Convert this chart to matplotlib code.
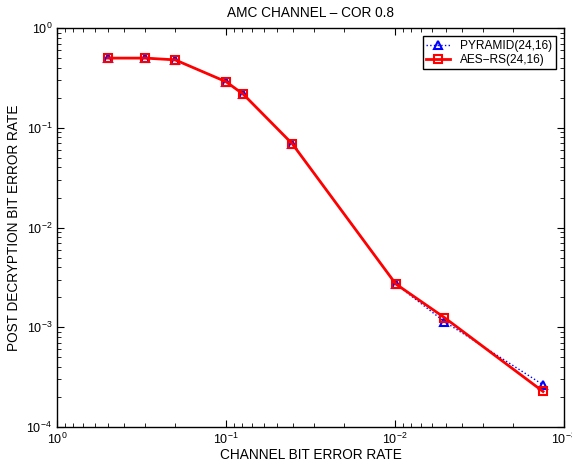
import matplotlib
matplotlib.use('Agg')
import matplotlib.pyplot as plt
from matplotlib.ticker import LogLocator, NullFormatter

plt.rcParams['font.family'] = ['Liberation Sans', 'DejaVu Sans']
plt.rcParams['font.size'] = 9
plt.rcParams['mathtext.fontset'] = 'custom'
plt.rcParams['mathtext.rm'] = 'Liberation Sans'

# channel bit error rate
ber = [0.5, 0.3, 0.2, 0.1, 0.079, 0.0405, 0.0099, 0.0051, 0.00133]
# post decryption bit error rate
pyramid = [0.50, 0.50, 0.48, 0.29, 0.217, 0.069, 0.00272, 0.00114, 0.000265]
aes_rs = [0.50, 0.50, 0.48, 0.29, 0.217, 0.069, 0.00272, 0.00125, 0.000227]

fig = plt.figure(figsize=(5.72, 4.68), dpi=100)
ax = fig.add_axes([0.0997, 0.0876, 0.8863, 0.8524])

ax.plot(ber, pyramid, ':', color='blue', lw=1.0, marker='^', ms=6,
        mfc='none', mec='blue', mew=1.5, label='PYRAMID(24,16)')
ax.plot(ber, aes_rs, '-', color='red', lw=2.0, marker='s', ms=6,
        mfc='none', mec='red', mew=1.5, label='AES\u2212RS(24,16)')

ax.set_xscale('log')
ax.set_yscale('log')
ax.set_xlim(1, 1e-3)
ax.set_ylim(1e-4, 1)
ax.xaxis.set_major_locator(LogLocator(base=10, numticks=10))
ax.xaxis.set_minor_locator(LogLocator(base=10, subs=range(2, 10), numticks=10))
ax.yaxis.set_major_locator(LogLocator(base=10, numticks=10))
ax.yaxis.set_minor_locator(LogLocator(base=10, subs=range(2, 10), numticks=10))
ax.xaxis.set_minor_formatter(NullFormatter())
ax.yaxis.set_minor_formatter(NullFormatter())
ax.tick_params(which='both', direction='in', top=True, right=True, labelsize=9)
ax.tick_params(which='major', length=5)
ax.tick_params(which='minor', length=3)
for s in ax.spines.values():
    s.set_linewidth(1.0)

ax.set_title('AMC CHANNEL \u2013 COR 0.8', fontsize=9.8, pad=8)
ax.set_xlabel('CHANNEL BIT ERROR RATE', fontsize=9.8, labelpad=1)
ax.set_ylabel('POST DECRYPTION BIT ERROR RATE', fontsize=9.8, labelpad=4)

leg = ax.legend(loc='upper right', fontsize=8.6, fancybox=False, framealpha=1,
                edgecolor='black', handlelength=2.0, borderpad=0.3,
                labelspacing=0.15, borderaxespad=0.7)
leg.get_frame().set_linewidth(1.0)

fig.savefig('out.png', dpi=100)
